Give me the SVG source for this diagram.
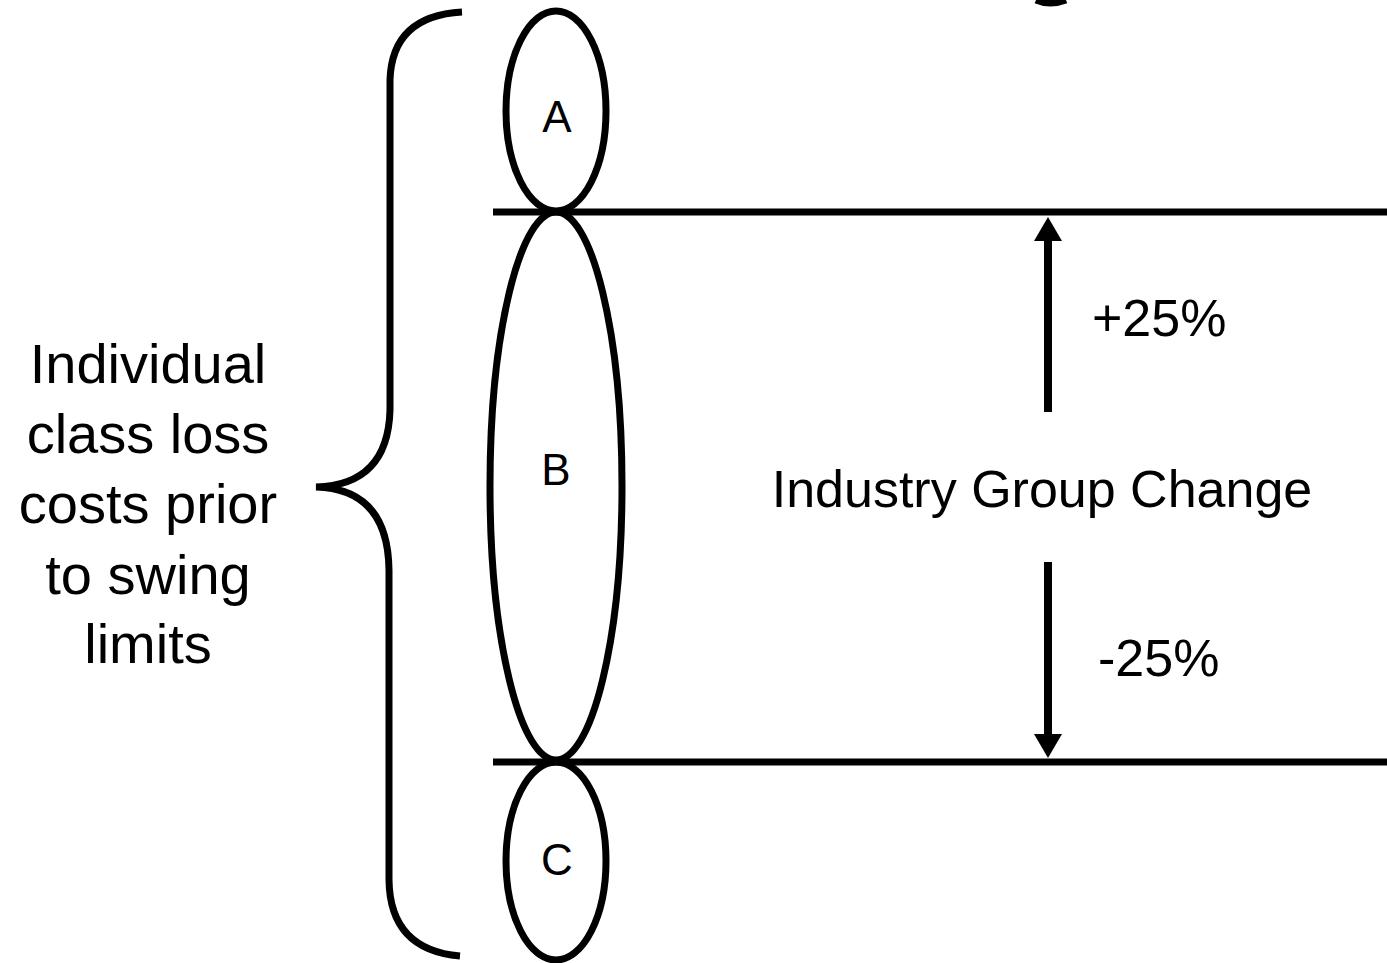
<svg xmlns="http://www.w3.org/2000/svg" width="1387" height="963" viewBox="0 0 1387 963">
<defs>
<style>
.s{fill:none;stroke:#000;stroke-width:7}
.t{font-family:"Liberation Sans",Arial,sans-serif;fill:#000}
</style>
<marker id="ah" viewBox="0 0 24 28" refX="1" refY="14" markerWidth="24" markerHeight="28" markerUnits="userSpaceOnUse" orient="auto">
<path d="M0,0 L24,14 L0,28 z" fill="#000"/>
</marker>
</defs>
<rect width="1387" height="963" fill="#fff"/>
<path d="M1036,0 Q1050,6 1066,0" class="s" stroke-width="5"/>
<g id="brace">
<path class="s" d="M462,12 Q392,16 390,80 L390,410 Q388,485 316,487 Q388,489 389,570 L389,880 Q390,950 460,956"/>
</g>
<g id="label-left">
<text class="t" font-size="56" text-anchor="middle" x="148" y="383">Individual</text>
<text class="t" font-size="56" text-anchor="middle" x="148" y="453">class loss</text>
<text class="t" font-size="56" text-anchor="middle" x="148" y="523">costs prior</text>
<text class="t" font-size="56" text-anchor="middle" x="148" y="594">to swing</text>
<text class="t" font-size="56" text-anchor="middle" x="148" y="663">limits</text>
</g>
<g id="connectors">
<line class="s" x1="493" y1="212" x2="1387" y2="212"/>
<line class="s" x1="493" y1="762" x2="1387" y2="762"/>
<line x1="1048" y1="412" x2="1048" y2="240" stroke="#000" stroke-width="8" marker-end="url(#ah)"/>
<line x1="1048" y1="562" x2="1048" y2="735" stroke="#000" stroke-width="8" marker-end="url(#ah)"/>
</g>
<g id="node-a">
<ellipse class="s" cx="556" cy="111" rx="50" ry="100"/>
<text class="t" font-size="44" text-anchor="middle" x="557" y="132">A</text>
</g>
<g id="node-b">
<ellipse class="s" cx="556" cy="486" rx="66" ry="274"/>
<text class="t" font-size="44" text-anchor="middle" x="556" y="485">B</text>
</g>
<g id="node-c">
<ellipse class="s" cx="556" cy="861" rx="50" ry="99"/>
<text class="t" font-size="44" text-anchor="middle" x="557" y="875">C</text>
</g>
<g id="labels-right">
<text class="t" font-size="52" x="1092" y="336">+25%</text>
<text class="t" font-size="52" text-anchor="middle" x="1042" y="507">Industry Group Change</text>
<text class="t" font-size="52" x="1098" y="676">-25%</text>
</g>
</svg>
